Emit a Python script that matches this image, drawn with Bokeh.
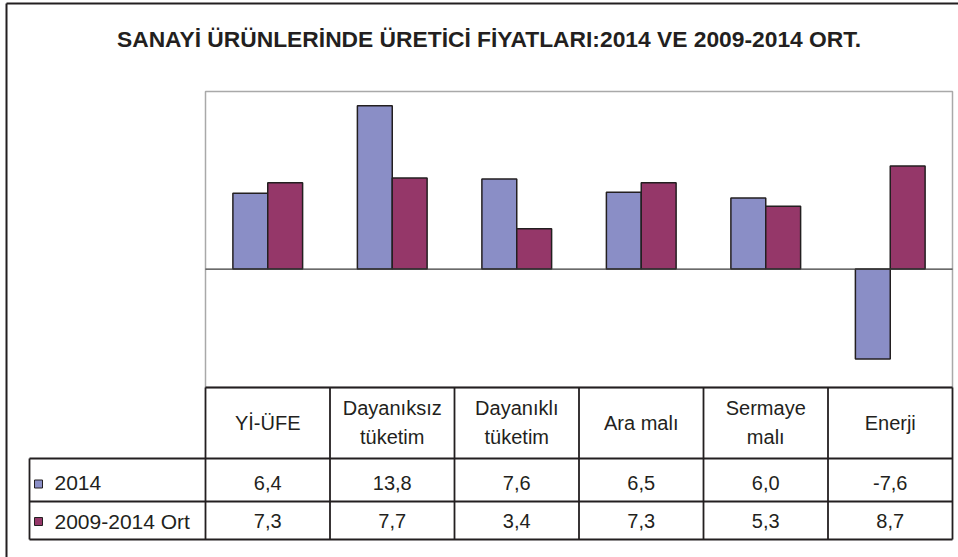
from bokeh.plotting import figure
from bokeh.models import Range1d, Label, ColumnDataSource
from bokeh.transform import dodge
from bokeh.embed import file_html
from bokeh.resources import INLINE
from bokeh.core.properties import value

# ---------------- data ----------------
title_text = "SANAYİ ÜRÜNLERİNDE ÜRETİCİ FİYATLARI:2014 VE 2009-2014 ORT."
categories = ["Yİ-ÜFE", "Dayanıksız tüketim", "Dayanıklı tüketim",
              "Ara malı", "Sermaye malı", "Enerji"]
header_labels = ["Yİ-ÜFE", "Dayanıksız\ntüketim", "Dayanıklı\ntüketim",
                 "Ara malı", "Sermaye\nmalı", "Enerji"]
series_names = ["2014", "2009-2014 Ort"]
values_2014 = [6.4, 13.8, 7.6, 6.5, 6.0, -7.6]
values_avg = [7.3, 7.7, 3.4, 7.3, 5.3, 8.7]
y_min, y_max = -10, 15

# ---------------- layout constants (pixels) ----------------
W, H = 958, 557
PL, PT, PR, PB = 205, 91, 952, 387          # plot area box
ncat = len(categories)
COLW = (PR - PL) / ncat                      # one category column
PXU = (PB - PT) / (y_max - y_min)            # pixels per value unit
colors = ["#8a8ec6", "#953769"]
dark = "#231f20"
FONT = "Liberation Sans"

p = figure(width=W, height=H,
           x_range=Range1d(-PL / COLW, (W - PL) / COLW),
           y_range=Range1d(y_min - (H - PB) / PXU, y_max + PT / PXU),
           output_backend="svg", toolbar_location=None,
           x_axis_location=None, y_axis_location=None, min_border=0)
p.extra_x_ranges = {"px": Range1d(0, W)}
p.extra_y_ranges = {"px": Range1d(H, 0)}
p.grid.visible = False
p.outline_line_color = None
p.background_fill_color = "white"
p.border_fill_color = "white"

PX = dict(x_range_name="px", y_range_name="px")

# outer chart border (left and top edges visible)
p.segment(x0=[6, 6], y0=[3, 3], x1=[6, W], y1=[H, 3], line_color=dark,
          line_width=2, **PX)

# plot area outline
p.quad(left=[0], right=[ncat], bottom=[y_min], top=[y_max], fill_color="white",
       line_color="#a9a9a9", line_width=1.5)

# bars
cat_x = [i + 0.5 for i in range(ncat)]
src = ColumnDataSource(dict(x=cat_x, v1=values_2014, v2=values_avg))
p.vbar(x=dodge("x", -0.14), top="v1", bottom=0, width=0.28,
       fill_color=colors[0], line_color=dark, line_width=1.5, source=src)
p.vbar(x=dodge("x", 0.14), top="v2", bottom=0, width=0.28,
       fill_color=colors[1], line_color=dark, line_width=1.5, source=src)
# zero line
p.segment(x0=[0], y0=[0], x1=[ncat], y1=[0], line_color="#3a3a3a", line_width=1.2)

# title
p.add_layout(Label(x=488.5, y=38, text=title_text, text_align="center",
                   text_baseline="middle", text_font=FONT,
                   text_font_style="bold", text_font_size="22.8px",
                   text_color=dark, **PX))

# ---------------- data table ----------------
row_lines = [PB, 458, 501, 539]
leg_left = 29
col_lines = [PL + i * COLW for i in range(ncat + 1)]
p.segment(x0=col_lines, y0=[PB] * (ncat + 1), x1=col_lines, y1=[row_lines[-1]] * (ncat + 1),
          line_color=dark, line_width=1.8, **PX)
p.segment(x0=[leg_left], y0=[row_lines[1]], x1=[leg_left], y1=[row_lines[-1]],
          line_color=dark, line_width=1.8, **PX)
p.segment(x0=[PL, leg_left, leg_left, leg_left], y0=row_lines,
          x1=[PR] * 4, y1=row_lines, line_color=dark, line_width=1.8, **PX)

col_centers = [PL + (i + 0.5) * COLW for i in range(ncat)]
p.text(x=col_centers, y=[422] * ncat, text=header_labels, text_align="center",
       text_baseline="middle", text_font=value(FONT), text_font_size="20px",
       text_color=dark, text_line_height=1.3, **PX)

def fmt(v):
    return f"{v:.1f}".replace(".", ",")

mid1, mid2 = 482, 520.5
p.text(x=col_centers, y=[mid1] * ncat, text=[fmt(v) for v in values_2014],
       text_align="center", text_baseline="middle", text_font=value(FONT),
       text_font_size="20px", text_color=dark, **PX)
p.text(x=col_centers, y=[mid2] * ncat, text=[fmt(v) for v in values_avg],
       text_align="center", text_baseline="middle", text_font=value(FONT),
       text_font_size="20px", text_color=dark, **PX)

# legend keys in the table
p.scatter(x=[38, 38], y=[483.5, 521], marker="square", size=8,
          fill_color=colors, line_color=dark, line_width=1, **PX)
p.text(x=[54, 54], y=[mid1, mid2], text=series_names, text_align="left",
       text_baseline="middle", text_font=value(FONT), text_font_size="21px",
       text_color=dark, **PX)

open("out.html", "w").write(file_html(p, INLINE))
